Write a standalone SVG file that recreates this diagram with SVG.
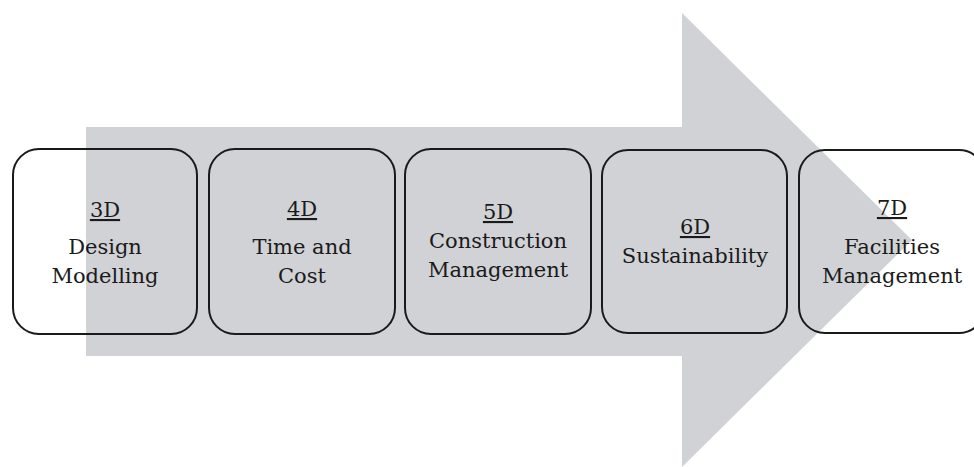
<svg xmlns="http://www.w3.org/2000/svg" width="974" height="467" viewBox="0 0 974 467">
<style>
.box{fill:none;stroke:#1a1a1a;stroke-width:2}
.t{font-family:"DejaVu Serif","Liberation Serif",serif;font-size:21px;fill:#1a1a1a;text-anchor:middle}
.u{text-decoration:underline}
</style>
<rect width="974" height="467" fill="#ffffff"/>
<g id="arrow">
<polygon points="86,127 682,127 682,13 912,240 682,467 682,356 86,356" fill="#d1d2d6"/>
</g>
<g id="node-3d">
<rect class="box" x="13" y="149" width="184" height="185" rx="26"/>
<text class="t" x="105" y="217"><tspan class="u">3D</tspan></text>
<text class="t" x="105" y="254">Design</text>
<text class="t" x="105" y="283">Modelling</text>
</g>
<g id="node-4d">
<rect class="box" x="209" y="149" width="186" height="185" rx="26"/>
<text class="t" x="302" y="216"><tspan class="u">4D</tspan></text>
<text class="t" x="302" y="254">Time and</text>
<text class="t" x="302" y="283">Cost</text>
</g>
<g id="node-5d">
<rect class="box" x="405" y="149" width="186" height="185" rx="26"/>
<text class="t" x="498" y="219"><tspan class="u">5D</tspan></text>
<text class="t" x="498" y="248">Construction</text>
<text class="t" x="498" y="277">Management</text>
</g>
<g id="node-6d">
<rect class="box" x="602" y="150" width="185" height="183" rx="26"/>
<text class="t" x="695" y="234"><tspan class="u">6D</tspan></text>
<text class="t" x="695" y="263">Sustainability</text>
</g>
<g id="node-7d">
<rect class="box" x="799" y="150" width="186" height="183" rx="26"/>
<text class="t" x="892" y="215"><tspan class="u">7D</tspan></text>
<text class="t" x="892" y="254">Facilities</text>
<text class="t" x="892" y="283">Management</text>
</g>
<g id="connectors"></g>
</svg>
